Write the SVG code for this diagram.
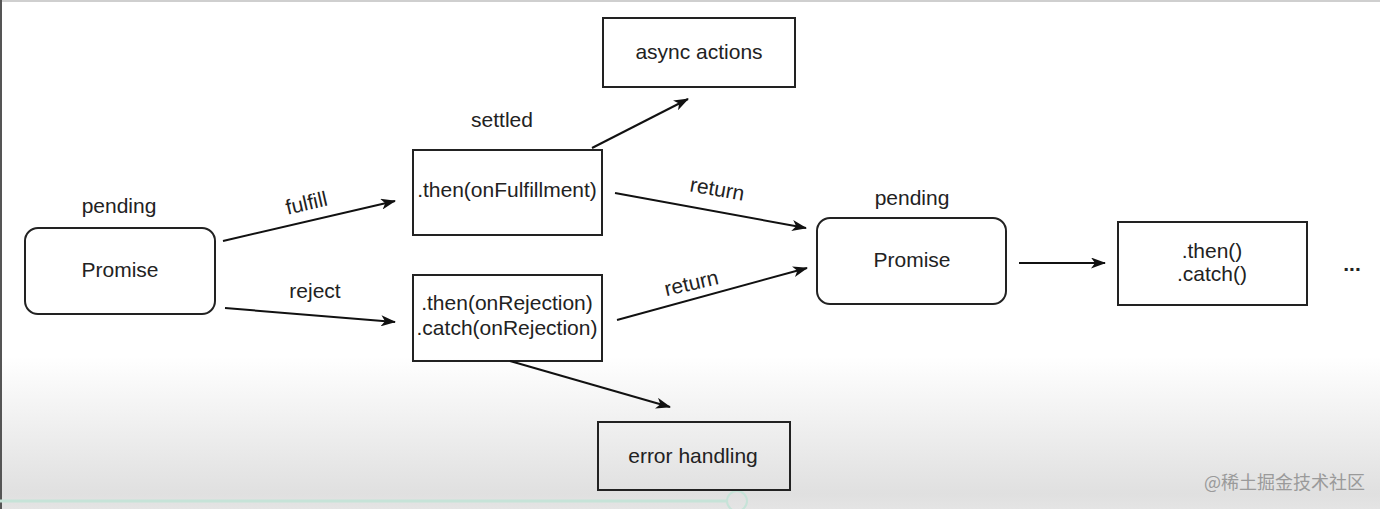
<svg xmlns="http://www.w3.org/2000/svg" width="1380" height="509" viewBox="0 0 1380 509">
<defs>
<linearGradient id="bg" x1="0" y1="0" x2="0" y2="1">
<stop offset="0" stop-color="#ffffff"/>
<stop offset="0.70" stop-color="#ffffff"/>
<stop offset="0.97" stop-color="#e0e0e0"/>
<stop offset="1" stop-color="#e4e4e4"/>
</linearGradient>
<marker id="arr" viewBox="0 0 15 11" refX="14" refY="5.5" markerWidth="15" markerHeight="11" markerUnits="userSpaceOnUse" orient="auto">
<path d="M0,0 L15,5.5 L0,11 L4,5.5 z" fill="#111"/>
</marker>
<style>
.box{fill:none;stroke:#222;stroke-width:2}
.t{font-family:"Liberation Sans",Arial,sans-serif;font-size:21px;fill:#222;text-anchor:middle}
.c{stroke:#111;stroke-width:2;fill:none;marker-end:url(#arr)}
</style>
</defs>
<rect x="0" y="0" width="1380" height="509" fill="url(#bg)"/>
<rect x="0" y="0" width="1380" height="2" fill="#cfcfcf"/>
<rect x="0" y="0" width="2" height="509" fill="#555"/>
<line x1="0" y1="501" x2="728" y2="501" stroke="#c6e3d8" stroke-width="3"/>
<circle cx="737" cy="501" r="10" fill="none" stroke="#c6e3d8" stroke-width="2"/>

<g id="promise1">
<text class="t" x="119" y="213">pending</text>
<rect class="box" x="25" y="228" width="190" height="86" rx="13"/>
<text class="t" x="120" y="277">Promise</text>
</g>
<g id="onFulfillment">
<text class="t" x="502" y="127">settled</text>
<rect class="box" x="413" y="150" width="189" height="85"/>
<text class="t" x="507" y="197">.then(onFulfillment)</text>
</g>
<g id="onRejection">
<rect class="box" x="413" y="275" width="189" height="86"/>
<text class="t" x="507" y="310">.then(onRejection)</text>
<text class="t" x="507" y="335">.catch(onRejection)</text>
</g>
<g id="async">
<rect class="box" x="603" y="18" width="192" height="69"/>
<text class="t" x="699" y="59">async actions</text>
</g>
<g id="error">
<rect class="box" x="598" y="422" width="192" height="68"/>
<text class="t" x="693" y="463">error handling</text>
</g>
<g id="promise2">
<text class="t" x="912" y="205">pending</text>
<rect class="box" x="817" y="218" width="189" height="86" rx="13"/>
<text class="t" x="912" y="267">Promise</text>
</g>
<g id="thencatch">
<rect class="box" x="1118" y="222" width="189" height="83"/>
<text class="t" x="1212" y="258">.then()</text>
<text class="t" x="1212" y="281">.catch()</text>
</g>
<g id="ellipsis">
<text class="t" x="1352" y="271" font-weight="bold">...</text>
</g>

<g id="connectors">
<line class="c" x1="223" y1="241" x2="395" y2="201"/>
<line class="c" x1="225" y1="308" x2="395" y2="322"/>
<line class="c" x1="592" y1="148" x2="688" y2="99"/>
<line class="c" x1="615" y1="193" x2="806" y2="228"/>
<line class="c" x1="617" y1="320" x2="807" y2="268"/>
<line class="c" x1="510" y1="361" x2="670" y2="407"/>
<line class="c" x1="1019" y1="263" x2="1105" y2="263"/>
<text class="t" transform="translate(308,210) rotate(-13)">fulfill</text>
<text class="t" x="315" y="298">reject</text>
<text class="t" transform="translate(716,196) rotate(10)">return</text>
<text class="t" transform="translate(693,290) rotate(-13)">return</text>
</g>

<text x="1365" y="489" font-family="'Noto Sans CJK SC','Liberation Sans',sans-serif" font-size="18" fill="#9a9a9a" text-anchor="end">@稀土掘金技术社区</text>
</svg>
